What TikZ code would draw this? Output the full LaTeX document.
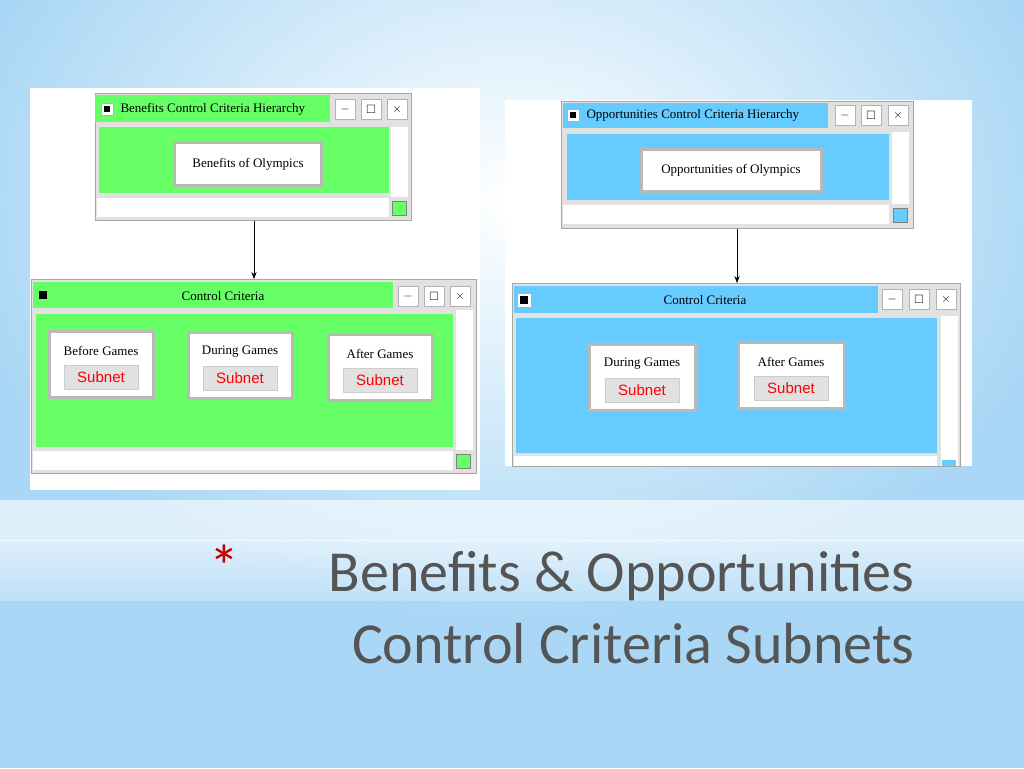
\documentclass[tikz,border=0pt]{standalone}
\usepackage{amssymb}
\usepackage{fontspec}
\setmainfont{Liberation Serif}
\newfontfamily\titlefont{Carlito}
\newfontfamily\subfont{Liberation Sans}
\usetikzlibrary{arrows.meta,positioning}
\definecolor{bgblue}{RGB}{170,215,245}
\definecolor{wingreen}{RGB}{102,255,102}
\definecolor{winblue}{RGB}{102,204,255}
\definecolor{barGray}{RGB}{225,225,225}
\definecolor{titleGray}{RGB}{85,85,85}
\tikzset{
  bevel/.style={draw=gray!55, line width=3pt, fill=white, inner sep=0pt},
  btn/.style={draw=gray!60, line width=1pt, fill=white, minimum width=20pt, minimum height=20pt, inner sep=0pt},
  subnet/.style={fill=barGray, draw=gray!40, text=red, font=\subfont\fontsize{15}{15}\selectfont, minimum width=74pt, minimum height=24pt, inner sep=0pt},
  wintext/.style={font=\fontsize{13}{13}\selectfont},
}
\begin{document}
\begin{tikzpicture}[x=1pt,y=-1pt]
\useasboundingbox (0,0) rectangle (1024,768);
% background
\fill[bgblue] (0,0) rectangle (1024,768);
\shade[inner color=white, outer color=bgblue] (512,200) ellipse (560 and 420);
\shade[top color=white!0, bottom color=white, opacity=0.6] (0,500) rectangle (1024,540);
\shade[top color=white, bottom color=bgblue!60, opacity=0.6] (0,540) rectangle (1024,600);

% white panels
\fill[white] (30,88) rectangle (480,490);
\fill[white] (505,100) rectangle (972,466);

% ---------- left: top window
\filldraw[fill=barGray, draw=gray!70] (95,93) rectangle (411,220);
\fill[wingreen] (95,95) rectangle (330,122);
\node[btn, minimum width=12pt, minimum height=12pt] (lbox1) at (107,109) {};
\fill (104,106) rectangle (110,112);
\node[wintext, anchor=west] (ltitle1) at (117,109) {Benefits Control Criteria Hierarchy};
\foreach \x/\s in {345/$-$, 371/$\square$, 397/$\times$}
  \node[btn, font=\large] at (\x,109) {\s};
\fill[wingreen] (99,127) rectangle (389,193);
\fill[white] (391,127) rectangle (408,197);
\fill[white] (97,198) rectangle (389,217);
\filldraw[fill=wingreen, draw=gray] (392,201) rectangle (406,215);
\node[bevel, wintext, minimum width=147pt, minimum height=43pt] (benefits) at (248,164) {Benefits of Olympics};

\coordinate (ltop) at (254,221);
\coordinate (lbot) at (254,279);
\draw[-{Stealth[length=7pt]}] (ltop) -- (lbot);

% ---------- left: control criteria
\filldraw[fill=barGray, draw=gray!70] (31,279) rectangle (476,473);
\fill[wingreen] (33,282) rectangle (393,308);
\fill (39,291) rectangle (47,299);
\node[wintext] (lcc) at (223,296) {Control Criteria};
\foreach \x/\s in {408/$-$, 434/$\square$, 460/$\times$}
  \node[btn, font=\large] at (\x,296) {\s};
\fill[wingreen] (36,314) rectangle (453,447);
\fill[white] (456,310) rectangle (473,450);
\fill[white] (33,451) rectangle (453,470);
\filldraw[fill=wingreen, draw=gray] (456,454) rectangle (470,468);
\foreach \n/\t/\x/\y in {lbefore/Before Games/101/364, lduring/During Games/240/365, lafter/After Games/380/367}{
  \node[bevel, minimum width=104pt, minimum height=66pt] (\n) at (\x,\y) {};
  \node[wintext] at (\x,\y-13) {\t};
  \node[subnet] at (\x,\y+13) {Subnet};
}

% ---------- right: top window
\filldraw[fill=barGray, draw=gray!70] (561,101) rectangle (913,228);
\fill[winblue] (563,103) rectangle (828,128);
\node[btn, minimum width=12pt, minimum height=12pt] (rbox1) at (573,115) {};
\fill (570,112) rectangle (576,118);
\node[wintext, anchor=west] (rtitle1) at (583,115) {Opportunities Control Criteria Hierarchy};
\foreach \x/\s in {845/$-$, 871/$\square$, 898/$\times$}
  \node[btn, font=\large] at (\x,115) {\s};
\fill[winblue] (567,134) rectangle (889,200);
\fill[white] (892,132) rectangle (909,204);
\fill[white] (563,205) rectangle (889,224);
\filldraw[fill=winblue, draw=gray] (893,208) rectangle (907,222);
\node[bevel, wintext, minimum width=180pt, minimum height=42pt] (opps) at (731,170) {Opportunities of Olympics};

\coordinate (rtop) at (737,229);
\coordinate (rbot) at (737,283);
\draw[-{Stealth[length=7pt]}] (rtop) -- (rbot);

% ---------- right: control criteria
\filldraw[fill=barGray, draw=gray!70] (512,283) rectangle (960,466);
\fill[winblue] (514,286) rectangle (878,313);
\node[btn, minimum width=14pt, minimum height=14pt] (rbox2) at (524,300) {};
\fill (520,296) rectangle (528,304);
\node[wintext] (rcc) at (705,300) {Control Criteria};
\foreach \x/\s in {892/$-$, 919/$\square$, 946/$\times$}
  \node[btn, font=\large] at (\x,299) {\s};
\fill[winblue] (516,318) rectangle (937,453);
\fill[white] (941,316) rectangle (958,466);
\fill[white] (514,456) rectangle (937,466);
\fill[winblue] (942,460) rectangle (956,466);
\foreach \n/\t/\x/\y in {rduring/During Games/642/377, rafter/After Games/791/375}{
  \node[bevel, minimum width=106pt, minimum height=66pt] (\n) at (\x,\y) {};
  \node[wintext] at (\x,\y-13) {\t};
  \node[subnet] at (\x,\y+13) {Subnet};
}

% ---------- title
\node[text=red!75!black, font=\titlefont\fontsize{60}{60}\selectfont] (star) at (224,566) {*};
\node[anchor=east, text=titleGray, font=\titlefont\fontsize{58}{58}\selectfont] (t1) at (918,576) {Benefits \& Opportunities};
\node[anchor=east, text=titleGray, font=\titlefont\fontsize{58}{58}\selectfont] (t2) at (918,644) {Control Criteria Subnets};
\end{tikzpicture}
\end{document}
